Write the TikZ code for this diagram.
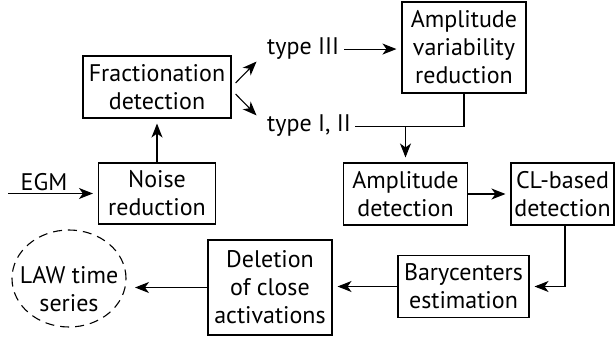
\documentclass[tikz,border=0pt]{standalone}
\usepackage{fontspec}
\setmainfont{PT Sans}
\usetikzlibrary{arrows.meta}
\begin{document}
\begin{tikzpicture}[x=1pt,y=-1pt,
 txt/.style={font=\fontsize{24}{28}\selectfont},
 box/.style={draw, line width=1.1pt, align=center, inner sep=0pt, txt},
 lbl/.style={inner sep=0pt, txt},
 conn/.style={line width=1.1pt},
 arr/.style={conn, -{Stealth[length=14pt,width=11pt,inset=4pt]}, shorten >=5pt}]
\useasboundingbox (0,0) rectangle (615,339);

\node[box, minimum width=148pt, minimum height=62pt] (frac) at (157,87) {Fractionation\\detection};
\node[box, minimum width=117pt, minimum height=61pt] (noise) at (157,193.5) {Noise\\reduction};
\node[box, minimum width=124pt, minimum height=91pt] (avr) at (464,47.5) {Amplitude\\variability\\reduction};
\node[box, minimum width=124pt, minimum height=62pt] (ampdet) at (405.5,194) {Amplitude\\detection};
\node[box, minimum width=103pt, minimum height=62pt] (cl) at (562.5,194) {CL-based\\detection};
\node[box, minimum width=131pt, minimum height=62pt] (bary) at (463.5,286.5) {Barycenters\\estimation};
\node[box, minimum width=124pt, minimum height=95pt] (del) at (270,287.5) {Deletion\\of close\\activations};

\node[lbl, align=center] (law) at (69,289) {LAW time\\series};
\coordinate (lawc) at (69,278.5);
\draw[conn, dash pattern=on 9pt off 6pt] (lawc) ellipse [x radius=57pt, y radius=48.5pt];
\coordinate (lawE) at (126,287);

\node[lbl] (egm) at (44,182.5) {EGM};
\node[lbl, anchor=base west] (t3) at (267,55) {type III};
\node[lbl, anchor=base west] (t12) at (267,132) {type I, II};

\coordinate (egmstart) at (8,193.5);
\coordinate (up) at (260,58);
\coordinate (down) at (260,119);

\draw[arr] (egmstart) -- (noise.west);
\draw[arr] (noise.north) -- (frac.south);
\draw[arr] ([xshift=4pt,yshift=4pt]frac.east) -- (up);
\draw[arr] ([xshift=4pt,yshift=-7pt]frac.east) -- (down);
\draw[arr, shorten <=5pt] (t3.east) -- (t3.east -| avr.west);
\draw[conn, shorten <=4pt] (t12.east) -| (avr.south);
\coordinate (j) at (ampdet.north |- t12.east);
\draw[arr] (j) -- (ampdet.north);
\draw[arr] (ampdet.east) -- (cl.west);
\draw[arr] ([xshift=2.5pt]cl.south) |- (bary.east);
\draw[arr] (bary.west) -- (bary.west -| del.east);
\draw[arr, shorten >=9pt] (del.west) -- (del.west -| lawE);
\end{tikzpicture}
\end{document}
